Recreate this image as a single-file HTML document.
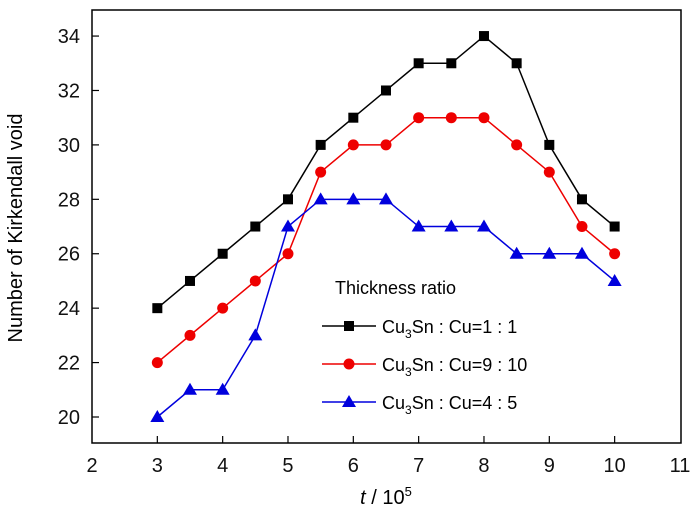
<!DOCTYPE html><html><head><style>body{margin:0;background:#fff}svg text{font-family:"Liberation Sans",Arial,sans-serif}</style></head><body>
<svg width="700" height="524" viewBox="0 0 700 524" xmlns="http://www.w3.org/2000/svg">
<rect x="92" y="10" width="589" height="433" fill="none" stroke="#000" stroke-width="1.5"/>
<g id="ticks" stroke="#000" stroke-width="1.2"></g>
<g id="labels" font-size="20" fill="#111"></g>
<text x="22" y="228" font-size="20" text-anchor="middle" transform="rotate(-90 22 228)">Number of Kirkendall void</text>
<text x="386" y="504" font-size="20" text-anchor="middle"><tspan font-style="italic">t</tspan> / 10<tspan font-size="13" dy="-8">5</tspan></text>
<g id="series"></g>
<text x="335" y="294" font-size="18">Thickness ratio</text>
<g font-size="18">
<line x1="322" y1="326" x2="376" y2="326" stroke="#000" stroke-width="1.5"/><rect x="344" y="321" width="10" height="10" fill="#000"/>
<text x="382" y="333">Cu<tspan font-size="12" dy="5">3</tspan><tspan dy="-5">Sn : Cu=1 : 1</tspan></text>
<line x1="322" y1="364" x2="376" y2="364" stroke="#e00" stroke-width="1.5"/><circle cx="349" cy="364" r="5.5" fill="#e00"/>
<text x="382" y="371">Cu<tspan font-size="12" dy="5">3</tspan><tspan dy="-5">Sn : Cu=9 : 10</tspan></text>
<line x1="322" y1="402" x2="376" y2="402" stroke="#00d" stroke-width="1.5"/><polygon points="349,395 356,407 342,407" fill="#00d"/>
<text x="382" y="409">Cu<tspan font-size="12" dy="5">3</tspan><tspan dy="-5">Sn : Cu=4 : 5</tspan></text>
</g>
</svg>
<script>
const X=v=>92+(v-2)*65.33, Y=v=>417-(v-20)*27.21;
const ns="http://www.w3.org/2000/svg";
function el(p,t,a,txt){const e=document.createElementNS(ns,t);for(const k in a)e.setAttribute(k,a[k]);if(txt!=null)e.textContent=txt;p.appendChild(e);return e;}
const tk=document.getElementById('ticks'),lb=document.getElementById('labels');
for(let v=2;v<=11;v++){const x=X(v);if(v>2&&v<11){el(tk,'line',{x1:x,y1:443,x2:x,y2:436});}el(lb,'text',{x:x,y:472,'text-anchor':'middle'},v);}
for(let v=20;v<=34;v+=2){const y=Y(v);el(tk,'line',{x1:92,y1:y,x2:99,y2:y});el(lb,'text',{x:80,y:y+7,'text-anchor':'end'},v);}
const xs=[3,3.5,4,4.5,5,5.5,6,6.5,7,7.5,8,8.5,9,9.5,10];
const d=[[24,25,26,27,28,30,31,32,33,33,34,33,30,28,27],[22,23,24,25,26,29,30,30,31,31,31,30,29,27,26],[20,21,21,23,27,28,28,28,27,27,27,26,26,26,25]];
const cols=['#000','#e00','#00d'];const s=document.getElementById('series');
d.forEach((ys,i)=>{el(s,'polyline',{points:xs.map((x,j)=>X(x)+','+Y(ys[j])).join(' '),fill:'none',stroke:cols[i],'stroke-width':1.5});
xs.forEach((x,j)=>{const cx=X(x),cy=Y(ys[j]);
if(i==0)el(s,'rect',{x:cx-5,y:cy-5,width:10,height:10,fill:cols[i]});
else if(i==1)el(s,'circle',{cx,cy,r:5.5,fill:cols[i]});
else el(s,'polygon',{points:`${cx},${cy-7} ${cx+7},${cy+5} ${cx-7},${cy+5}`,fill:cols[i]});});});
</script>
</body></html>
